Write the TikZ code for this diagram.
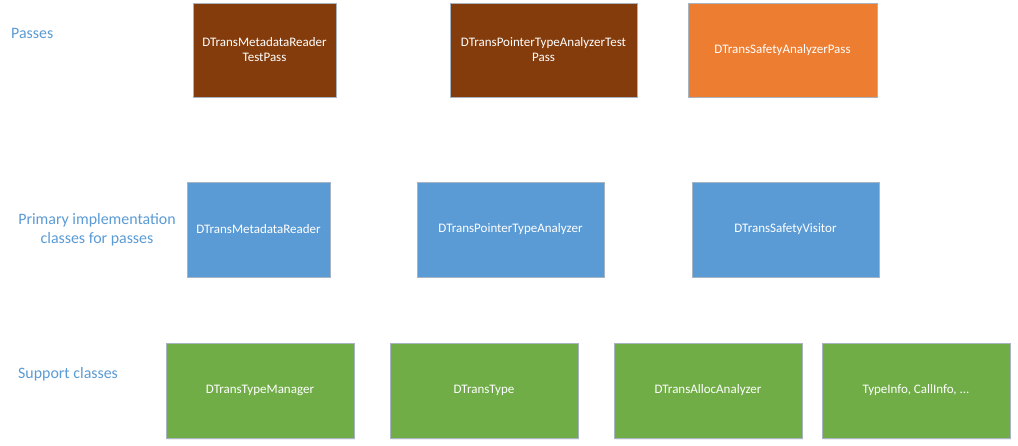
\documentclass[tikz,border=0pt]{standalone}
\usepackage{fontspec}
\setmainfont{Carlito}
\usetikzlibrary{shadows}
\definecolor{brownbox}{HTML}{843C0C}
\definecolor{orangebox}{HTML}{ED7D31}
\definecolor{bluebox}{HTML}{5B9BD5}
\definecolor{greenbox}{HTML}{70AD47}
\definecolor{labelblue}{HTML}{5B9BD5}
\definecolor{edgegray}{HTML}{A9B4C2}
\tikzset{
  box/.style={draw=edgegray, line width=0.8pt, text=white, align=center,
    inner sep=0pt, minimum height=94pt,
    font=\fontsize{13}{15}\selectfont,
    drop shadow={opacity=0.12, shadow xshift=1pt, shadow yshift=-1.5pt}},
  passbox/.style={box, fill=brownbox},
  safebox/.style={box, fill=orangebox},
  implbox/.style={box, fill=bluebox, minimum height=95pt},
  suppbox/.style={box, fill=greenbox, minimum height=95pt},
  rowlabel/.style={text=labelblue, align=center, inner sep=0pt,
    font=\fontsize{15.9}{19}\selectfont}
}
\begin{document}
\begin{tikzpicture}[x=1pt,y=-1pt]
\useasboundingbox (0,0) rectangle (1018,446);
\fill[white] (0,0) rectangle (1018,446);
% row labels
\node[rowlabel, anchor=west] (lp) at (11,33) {Passes};
\node[rowlabel] (li) at (97,229.5) {Primary implementation\\classes for passes};
\node[rowlabel, anchor=west] (ls) at (18,374) {Support classes};
% passes
\node[passbox, minimum width=143pt] (p1) at (264.5,50) {DTransMetadataReader\\TestPass};
\node[passbox, minimum width=187pt] (p2) at (543.5,50) {DTransPointerTypeAnalyzerTest\\Pass};
\node[safebox, minimum width=189pt] (p3) at (782.5,50) {DTransSafetyAnalyzerPass};
% implementation
\node[implbox, minimum width=143pt] (i1) at (258.5,229.5) {DTransMetadataReader};
\node[implbox, minimum width=187pt] (i2) at (510.5,229.5) {DTransPointerTypeAnalyzer};
\node[implbox, minimum width=187pt] (i3) at (785.5,229.5) {DTransSafetyVisitor};
% support
\node[suppbox, minimum width=188pt] (s1) at (260,390.5) {DTransTypeManager};
\node[suppbox, minimum width=188pt] (s2) at (484,390.5) {DTransType};
\node[suppbox, minimum width=188pt] (s3) at (708,390.5) {DTransAllocAnalyzer};
\node[suppbox, minimum width=188pt] (s4) at (916,390.5) {TypeInfo, CallInfo, ...};
\end{tikzpicture}
\end{document}
